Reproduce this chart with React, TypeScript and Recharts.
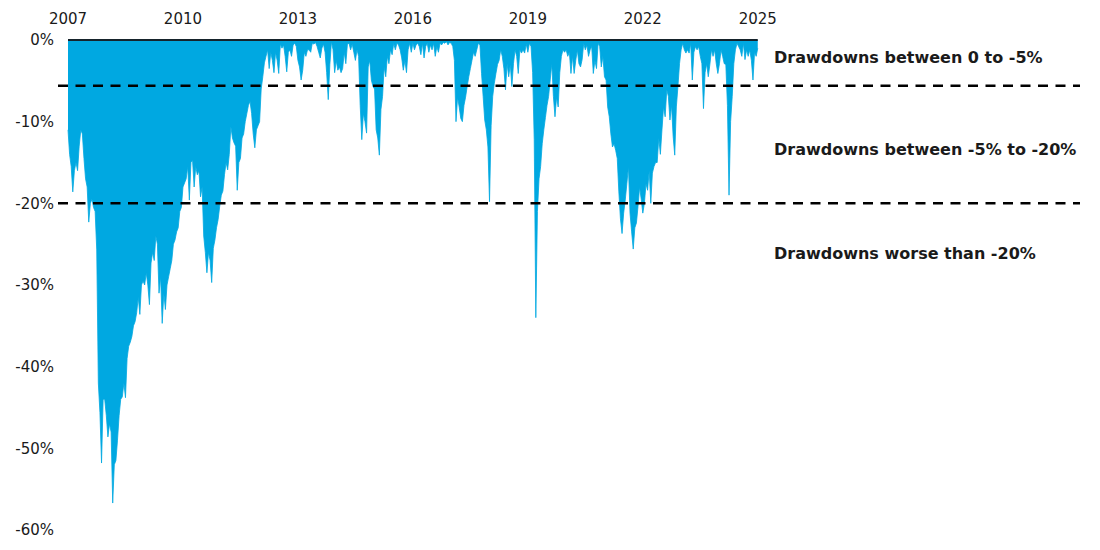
import { AreaChart, Area, XAxis, YAxis, ReferenceLine } from 'recharts';

// drawdown in %, two readings per month (24 per year)
const dd2007 = [-11, -14, -15.5, -18.6, -16, -15, -16, -13, -11, -11.5, -14.5, -17, -18, -22.3, -20, -19.5, -20.5, -21, -25.7, -42, -45.6, -51.8, -44, -44];
const dd2008 = [-46, -48.6, -47, -48, -56.7, -52, -51.5, -49, -46, -44, -43.7, -42, -43.8, -39, -37.5, -37, -36.3, -35, -34.5, -33.4, -31.5, -33.6, -30, -29.5];
const dd2009 = [-30, -28.5, -30, -32.4, -27.3, -26, -27, -24, -25, -31, -29, -34.7, -31, -33, -30, -29, -28, -27, -25, -24.5, -23.5, -23, -21, -20.5];
const dd2010 = [-18, -17.5, -17, -15.5, -19.6, -15, -14.7, -18, -15.5, -16.5, -16, -19.2, -18, -24, -26, -28.5, -26, -27, -29.7, -25.5, -24.5, -23, -22, -20.4];
const dd2011 = [-19, -18.5, -16.5, -15, -15.9, -14, -10.6, -12, -12.6, -13, -18.4, -15, -14.5, -12, -11.5, -10, -9, -8, -7.5, -9, -11.5, -13.2, -11, -10.5];
const dd2012 = [-10, -6, -4.5, -2.8, -2, -1.2, -3.5, -1.5, -2.5, -4, -1.5, -2.5, -4.1, -0.5, -1, -0.6, -2, -3.9, -1.5, -1.2, -2, -0.6, -0.4, -0.8];
const dd2013 = [-2.5, -3.3, -4.9, -3.7, -1.5, -2, -1.2, -1.2, -1.5, -0.4, -0.5, -0.3, -0.8, -1.5, -2.2, -1, -0.5, -1.5, -4, -7.3, -3, -0.2, -1.2, -4];
const dd2014 = [-2.5, -3.7, -3.3, -4, -3.5, -1.5, -2.9, -0.5, -0.4, -1.2, -0.5, -1.5, -2.5, -1.2, -2, -8, -12.2, -9, -10, -11.4, -3.3, -2.5, -4.9, -5.7];
const dd2015 = [-6, -11, -12, -14.1, -8.5, -6.9, -3.3, -4.5, -2, -2.9, -1.2, -1.8, -0.4, -1.2, -0.4, -0.6, -1.2, -2.2, -3.7, -2.5, -4, -1.2, -0.4, -1.5];
const dd2016 = [-0.4, -1.2, -0.6, -0.4, -0.8, -1.8, -0.4, -2.2, -0.8, -0.4, -1.5, -0.6, -1.2, -0.4, -2, -0.8, -1.5, -0.4, -0.6, -0.3, -0.4, -0.2, -0.6, -0.3];
const dd2017 = [-0.4, -0.8, -2.5, -10, -7, -8.2, -9.6, -10, -8, -7, -5.7, -4.5, -3.5, -2.5, -1.5, -2, -1.2, -0.4, -0.6, -4.1, -6.9, -9.8, -11, -13.1];
const dd2018 = [-19.8, -10.5, -6.9, -5.3, -4.1, -3, -2.5, -1.2, -2, -3.5, -6.1, -2.9, -4.5, -3, -5.7, -2.9, -1.2, -2, -4.1, -1.2, -1.6, -1.2, -1.6, -0.5];
const dd2019 = [-1.5, -0.4, -0.8, -4, -12.2, -34, -21, -17, -15.5, -12.7, -11, -9.5, -8, -6.9, -4.9, -2.9, -6.9, -9.4, -7, -8.2, -4, -2, -1.2, -1.5];
const dd2020 = [-1.2, -2, -1.5, -4.1, -2, -4.1, -2.5, -1.2, -2.9, -3.3, -2.4, -0.4, -1.2, -0.6, -2, -1.2, -0.8, -4.1, -2.5, -3.5, -0.4, -0.8, -3.3, -2];
const dd2021 = [-4.5, -4.9, -8.2, -9.4, -11.5, -13.1, -12.7, -13.5, -14.5, -18.6, -21.9, -23.7, -21.2, -19.6, -17.6, -15.5, -21.2, -23.5, -25.6, -23, -22.4, -20.4, -18, -19.5];
const dd2022 = [-21.2, -20, -17.6, -18.4, -16, -20, -16.3, -15.5, -15, -15, -12, -14, -11, -8.2, -9.4, -6.1, -6.9, -9.8, -8, -11.8, -14.1, -8.2, -5.7, -2.9];
const dd2023 = [-1.2, -0.4, -1.2, -1.6, -1.2, -1.6, -0.4, -4.9, -1.5, -0.8, -1.2, -0.8, -2, -2.9, -8.4, -4, -2.9, -4.5, -3, -1.2, -2, -1.2, -2.9, -4.1];
const dd2024 = [-2.9, -1.2, -2, -2.9, -3, -8, -19, -10, -6.9, -2.9, -1.2, -0.4, -0.8, -1.2, -2, -0.4, -2.4, -1.2, -2, -1.2, -2.5, -4.9, -1.5, -2];
const dd2025 = [-1];

const START_YEAR = 2007;
const yearTicks = [2007, 2010, 2013, 2016, 2019, 2022, 2025];
const pctTicks = [0, -10, -20, -30, -40, -50, -60];
const bandLines = [-5.6, -20];
const bandLabels = ['Drawdowns between 0 to -5%', 'Drawdowns between -5% to -20%', 'Drawdowns worse than -20%'];

const drawdown = [
  dd2007, dd2008, dd2009, dd2010, dd2011, dd2012, dd2013, dd2014, dd2015,
  dd2016, dd2017, dd2018, dd2019, dd2020, dd2021, dd2022, dd2023, dd2024, dd2025,
].flat();

const data = drawdown.map((v, i) => ({ t: START_YEAR + i / 24, dd: v }));

const BLUE = '#00A8E1';
const INK = '#1a1a1a';
const FONT = '"DejaVu Sans", sans-serif';

const labelTops = [48, 140, 244];

export default function App() {
  return (
    <div style={{ position: 'relative', width: 1100, height: 550, fontFamily: FONT }}>
      <style>{'body{margin:0}'}</style>
      <AreaChart width={1100} height={550} data={data} margin={{ top: 10, right: 20, bottom: 20, left: 0 }}>
        <XAxis
          type="number"
          dataKey="t"
          orientation="top"
          domain={[2006.739, 2033.409]}
          ticks={yearTicks}
          allowDataOverflow
          axisLine={false}
          tickLine={false}
          tickSize={0}
          tickMargin={16}
          height={30}
          tick={{ fontSize: 15, fill: INK, fontFamily: FONT }}
        />
        <YAxis
          type="number"
          domain={[-60, 0]}
          ticks={pctTicks}
          width={58}
          axisLine={false}
          tickLine={false}
          tickSize={0}
          tickMargin={4}
          tickFormatter={(v: number) => `${v}%`}
          tick={{ fontSize: 15, fill: INK, fontFamily: FONT }}
        />
        <Area
          type="linear"
          dataKey="dd"
          baseValue={0}
          fill={BLUE}
          fillOpacity={1}
          stroke={BLUE}
          strokeWidth={0.8}
          dot={false}
          activeDot={false}
          isAnimationActive={false}
        />
        <ReferenceLine
          segment={[{ x: 2007, y: 0 }, { x: 2025, y: 0 }]}
          stroke="#16232b"
          strokeWidth={2}
        />
        {bandLines.map(y => (
          <ReferenceLine key={y} y={y} stroke="#000" strokeWidth={2.5} strokeDasharray="10 7.5" />
        ))}
      </AreaChart>
      {bandLabels.map((txt, i) => (
        <div
          key={txt}
          style={{
            position: 'absolute',
            left: 774,
            top: labelTops[i],
            fontSize: 16,
            fontWeight: 'bold',
            lineHeight: '20px',
            color: INK,
            whiteSpace: 'nowrap',
          }}
        >
          {txt}
        </div>
      ))}
    </div>
  );
}
